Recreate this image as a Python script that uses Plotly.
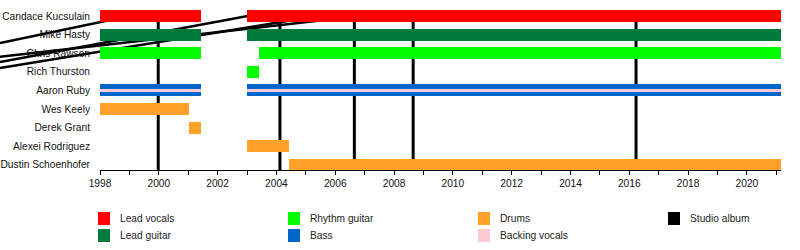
import plotly.graph_objects as go

# ---------------- data ----------------
members = ["Candace Kucsulain", "Mike Hasty", "Chris Rawson", "Rich Thurston",
           "Aaron Ruby", "Wes Keely", "Derek Grant", "Alexei Rodriguez",
           "Dustin Schoenhofer"]

X_START = 1998.0
X_END = 2021.16

roles = ["Lead vocals", "Lead guitar", "Rhythm guitar", "Bass",
         "Drums", "Backing vocals", "Studio album"]
role_colors = ["#ff0000", "#007a3d", "#00ff00", "#0066cc",
               "#ffa02a", "#ffcad2", "#000000"]

seg_member = ["Candace Kucsulain", "Candace Kucsulain",
              "Mike Hasty", "Mike Hasty",
              "Chris Rawson", "Chris Rawson",
              "Rich Thurston",
              "Aaron Ruby", "Aaron Ruby",
              "Aaron Ruby", "Aaron Ruby",
              "Wes Keely", "Derek Grant", "Alexei Rodriguez", "Dustin Schoenhofer"]
seg_role = ["Lead vocals", "Lead vocals",
            "Lead guitar", "Lead guitar",
            "Rhythm guitar", "Rhythm guitar",
            "Rhythm guitar",
            "Bass", "Bass",
            "Backing vocals", "Backing vocals",
            "Drums", "Drums", "Drums", "Drums"]
seg_start = [1998.0, 2003.0,
             1998.0, 2003.0,
             1998.0, 2003.42,
             2003.0,
             1998.0, 2003.0,
             1998.0, 2003.0,
             1998.0, 2001.03, 2003.0, 2004.43]
seg_end = [2001.43, X_END,
           2001.43, X_END,
           2001.43, X_END,
           2003.42,
           2001.43, X_END,
           2001.43, X_END,
           2001.03, 2001.43, 2004.43, X_END]

albums = [1999.98, 2004.12, 2006.65, 2008.65, 2016.23]
# stray diagonal album strokes: left-edge height (row units) -> album top
stray_album = [1999.98, 2004.12, 2006.65, 2008.65]
stray_left_y = [6.55, 5.53, 5.20, 5.80]

tick_years = list(range(1998, 2021, 2))

# ---------------- figure ----------------
n = len(members)
row_of = {m: n - 1 - i for i, m in enumerate(members)}
Y_MIN, Y_MAX = -0.28, 8.32
FS = 10.2

fig = go.Figure()
for role, color in zip(roles, role_colors):
    idx = [i for i, r in enumerate(seg_role) if r == role]
    if not idx:
        continue
    fig.add_trace(go.Bar(
        orientation="h",
        y=[row_of[seg_member[i]] for i in idx],
        base=[seg_start[i] for i in idx],
        x=[seg_end[i] - seg_start[i] for i in idx],
        width=0.2 if role == "Backing vocals" else 0.645,
        marker=dict(color=color, line=dict(width=0)),
        name=role, showlegend=False, hoverinfo="skip",
    ))

shapes = []
for a in albums:
    shapes.append(dict(type="line", xref="x", yref="y", x0=a, x1=a,
                       y0=Y_MIN, y1=Y_MAX, layer="below",
                       line=dict(color="black", width=3)))

PLOT_L, PLOT_R = 100, 781
left_paper = -PLOT_L / (PLOT_R - PLOT_L)
for a, ly in zip(stray_album, stray_left_y):
    shapes.append(dict(type="line", xref="paper", yref="y",
                       x0=left_paper, y0=ly,
                       x1=(a - X_START) / (X_END - X_START), y1=Y_MAX,
                       layer="below", line=dict(color="black", width=2.5)))

# legend (manual grid, column-major)
annotations = []
PH = 160.0
for i, (role, color) in enumerate(zip(roles, role_colors)):
    col, row = i // 2, i % 2
    sx = 98 + 190 * col
    top = 212 + 17 * row
    shapes.append(dict(type="rect", xref="paper", yref="paper",
                       x0=(sx - PLOT_L) / (PLOT_R - PLOT_L),
                       x1=(sx + 12 - PLOT_L) / (PLOT_R - PLOT_L),
                       y0=(170 - top) / PH, y1=(170 - top - 13) / PH,
                       fillcolor=color, line=dict(width=0), layer="above"))
    annotations.append(dict(xref="paper", yref="paper",
                            x=(sx + 22 - PLOT_L) / (PLOT_R - PLOT_L),
                            y=(170 - top - 6.5) / PH,
                            text=role, showarrow=False, xanchor="left",
                            yanchor="middle", xshift=-2,
                            font=dict(size=FS, color="#222")))

fig.update_layout(
    width=800, height=250,
    margin=dict(l=100, r=19, t=10, b=80),
    paper_bgcolor="white", plot_bgcolor="rgba(0,0,0,0)",
    barmode="overlay", bargap=0,
    font=dict(family="Liberation Sans, Arial, sans-serif", size=FS, color="#111"),
    shapes=shapes, annotations=annotations,
    showlegend=False,
)
fig.update_xaxes(range=[X_START, X_END], tickvals=tick_years,
                 ticks="outside", ticklen=4, tickcolor="black",
                 showline=True, linecolor="black", linewidth=1,
                 showgrid=False, zeroline=False, automargin=False,
                 minor=dict(dtick=1, tick0=1999, ticks="outside", ticklen=4,
                            tickcolor="black", showgrid=False),
                 tickfont=dict(size=FS, color="#111"))
fig.update_yaxes(range=[Y_MIN, Y_MAX], automargin=False,
                 tickvals=[row_of[m] for m in members], ticktext=members,
                 ticks="", showline=False, showgrid=False, zeroline=False,
                 ticklabelstandoff=9, tickfont=dict(size=FS, color="#111"))

fig.write_html("out.html")
